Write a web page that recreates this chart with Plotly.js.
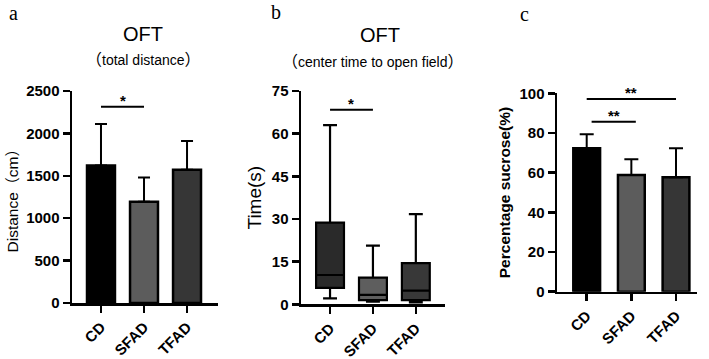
<!DOCTYPE html>
<html><head><meta charset="utf-8">
<script src="https://cdn.plot.ly/plotly-3.0.1.min.js"></script>
<style>html,body{margin:0;padding:0;background:#fff}#chart{width:709px;height:359px}</style>
</head><body><div id="chart"></div>
<script>
// ---- data ----
const categories = ['CD', 'SFAD', 'TFAD'];
const catPos = [0, 1, 2];

// panel a: OFT total distance (mean + upper SD)
const distMean = [1620, 1195, 1570];
const distErr = [490, 285, 340];

// panel b: OFT center time (box stats)
const timeQ1 = [5.8, 1.5, 1.5];
const timeMedian = [10.3, 3.3, 4.8];
const timeQ3 = [28.7, 9.4, 14.5];
const timeMin = [2.1, 0.9, 0.7];
const timeMax = [63, 20.6, 31.7];

// panel c: sucrose preference (mean + upper SD)
const sucroseMean = [72.3, 58.8, 57.7];
const sucroseErr = [7.0, 7.9, 14.6];

// significance brackets
const sigAx = [0, 1], sigAy = [2315, 2315], sigAlabel = '*';
const sigBx = [0, 1], sigBy = [68.4, 68.4], sigBlabel = '*';
const sigC1x = [0, 2], sigC1y = [97.1, 97.1], sigC1label = '**';
const sigC2x = [0.11, 1.1], sigC2y = [85.7, 85.7], sigC2label = '**';

// ---- style ----
const barColors = ['#000000', '#5c5c5c', '#363636'];
const boxColors = ['#2a2a2a', '#5e5e5e', '#383838'];
const SANS = 'Liberation Sans, Arial, sans-serif';
const SERIF = 'Liberation Serif, "Times New Roman", serif';
function fwParen(ch, size) {
  return '<span style="font-family:\'Noto Sans CJK SC\';font-size:' + size + 'px">' + ch + '</span>';
}

const traces = [];
traces.push({
  type: 'bar', x: catPos, y: distMean, xaxis: 'x', yaxis: 'y', width: 0.65,
  marker: {color: barColors, line: {color: '#000', width: 2.5}},
  error_y: {type: 'data', symmetric: false, array: distErr, arrayminus: [0, 0, 0], color: '#000', thickness: 2, width: 6},
  showlegend: false, hoverinfo: 'skip'
});
for (let i = 0; i < categories.length; i++) {
  traces.push({
    type: 'box', x: [catPos[i]], q1: [timeQ1[i]], median: [timeMedian[i]], q3: [timeQ3[i]],
    lowerfence: [timeMin[i]], upperfence: [timeMax[i]], xaxis: 'x2', yaxis: 'y2',
    width: 0.65, whiskerwidth: 0.5, fillcolor: boxColors[i], line: {color: '#000', width: 2.2},
    boxpoints: false, showlegend: false, hoverinfo: 'skip'
  });
}
traces.push({
  type: 'bar', x: catPos, y: sucroseMean, xaxis: 'x3', yaxis: 'y3', width: 0.6,
  marker: {color: barColors, line: {color: '#000', width: 2.5}},
  error_y: {type: 'data', symmetric: false, array: sucroseErr, arrayminus: [0, 0, 0], color: '#000', thickness: 2, width: 7},
  showlegend: false, hoverinfo: 'skip'
});
const sigLines = [[sigAx, sigAy, 'x', 'y'], [sigBx, sigBy, 'x2', 'y2'], [sigC1x, sigC1y, 'x3', 'y3'], [sigC2x, sigC2y, 'x3', 'y3']];
sigLines.forEach(s => traces.push({type: 'scatter', mode: 'lines', x: s[0], y: s[1], xaxis: s[2], yaxis: s[3],
  line: {color: '#000', width: 2}, showlegend: false, hoverinfo: 'skip'}));

const tickFont = {family: SANS, size: 15, color: '#000', weight: 'bold'};
function xax(domain, range, anchor) {
  return {domain: domain, range: range, anchor: anchor, tickvals: catPos, ticktext: categories,
    tickangle: -45, tickfont: {family: SANS, size: 15, color: '#000', weight: 'bold'},
    showline: true, linewidth: 2.5, linecolor: '#000', ticks: 'outside', ticklen: 7, tickwidth: 2.5,
    tickcolor: '#000', showgrid: false, zeroline: false, fixedrange: true};
}
function yax(domain, range, dtick, anchor, title) {
  return {domain: domain, range: range, dtick: dtick, tick0: 0, anchor: anchor, tickfont: tickFont,
    showline: true, linewidth: 2.5, linecolor: '#000', ticks: 'outside', ticklen: 7, tickwidth: 2.5,
    tickcolor: '#000', showgrid: false, zeroline: false, fixedrange: true, title: title};
}

function star(text, x, y, xr, yr) {
  return {text: text, x: x, y: y, xref: xr, yref: yr, showarrow: false, yanchor: 'bottom', yshift: -4,
    font: {family: SANS, size: 15, color: '#000', weight: 'bold'}};
}
function ptxt(text, px, py, size, family, weight) {
  return {text: text, x: px / 709, y: 1 - py / 359, xref: 'paper', yref: 'paper', showarrow: false,
    xanchor: 'center', yanchor: 'middle', font: {family: family, size: size, color: '#000', weight: weight || 'normal'}};
}

const layout = {
  width: 709, height: 359, margin: {l: 0, r: 0, t: 0, b: 0},
  paper_bgcolor: '#fff', plot_bgcolor: 'rgba(0,0,0,0)', showlegend: false, boxmode: 'overlay',
  xaxis: xax([72 / 709, 218 / 709], [-0.674, 2.72], 'y'),
  yaxis: yax([56 / 359, 268 / 359], [0, 2500], 500, 'x',
    {text: 'Distance' + fwParen('（', 15) + 'cm' + fwParen('）', 15), font: {family: SANS, size: 15.5, color: '#000'}, standoff: 4}),
  xaxis2: xax([301 / 709, 445 / 709], [-0.677, 2.68], 'y2'),
  yaxis2: yax([54.7 / 359, 268 / 359], [0, 75], 15, 'x2',
    {text: 'Time(s)', font: {family: SANS, size: 19, color: '#000'}, standoff: 5}),
  xaxis3: xax([557 / 709, 697 / 709], [-0.665, 2.47], 'y3'),
  yaxis3: yax([67.3 / 359, 265.7 / 359], [0, 100], 20, 'x3',
    {text: 'Percentage sucrose(%)', font: {family: SANS, size: 15.5, color: '#000', weight: 'bold'}, standoff: 5}),
  annotations: [
    star(sigAlabel, (sigAx[0] + sigAx[1]) / 2, sigAy[0], 'x', 'y'),
    star(sigBlabel, (sigBx[0] + sigBx[1]) / 2, sigBy[0], 'x2', 'y2'),
    star(sigC1label, (sigC1x[0] + sigC1x[1]) / 2, sigC1y[0], 'x3', 'y3'),
    star(sigC2label, (sigC2x[0] + sigC2x[1]) / 2, sigC2y[0], 'x3', 'y3'),
    ptxt('OFT', 143, 34, 20, SANS),
    ptxt(fwParen('（', 16) + 'total distance' + fwParen('）', 16), 143, 58.5, 14, SANS),
    ptxt('OFT', 380, 35, 20, SANS),
    ptxt(fwParen('（', 16) + 'center time to open field' + fwParen('）', 16), 373, 60, 14, SANS),
    ptxt('a', 13, 13, 20, SERIF),
    ptxt('b', 276, 12, 20, SERIF),
    ptxt('c', 524, 14, 20, SERIF)
  ]
};

Plotly.newPlot('chart', traces, layout, {displayModeBar: false, staticPlot: true});
</script></body></html>
